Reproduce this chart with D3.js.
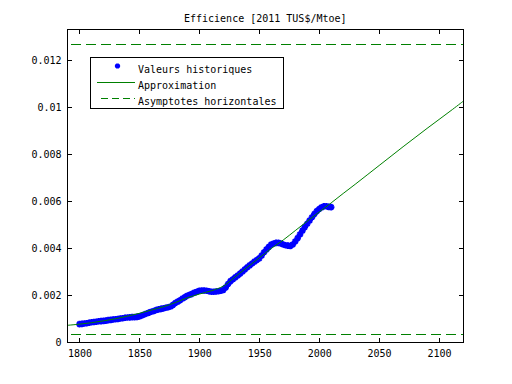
<!DOCTYPE html>
<html>
<head>
<meta charset="utf-8">
<script src="https://cdn.jsdelivr.net/npm/d3@7"></script>
<style>
  html, body { margin: 0; padding: 0; background: #fff; }
  svg text { font-family: "DejaVu Sans Mono", monospace; font-size: 10px; fill: #000; }
</style>
</head>
<body>
<svg id="chart" width="512" height="384"></svg>
<script>
// ---- Data ----
const histYears = d3.range(1800, 2011, 2);
const histValues = [
  0.00076,0.00077,0.00079,0.00080,0.00082,0.00084,0.00085,0.00086,0.00088,0.00089,
  0.00090,0.00091,0.00093,0.00094,0.00096,0.00097,0.00098,0.00100,0.00101,0.00103,
  0.00104,0.00105,0.00106,0.00106,0.00107,0.00109,0.00113,0.00117,0.00121,0.00125,
  0.00129,0.00132,0.00136,0.00139,0.00141,0.00143,0.00146,0.00148,0.00151,0.00158,
  0.00166,0.00172,0.00178,0.00185,0.00191,0.00197,0.00201,0.00205,0.00210,0.00214,
  0.00218,0.00219,0.00219,0.00218,0.00216,0.00214,0.00214,0.00215,0.00216,0.00218,
  0.00221,0.00232,0.00247,0.00259,0.00267,0.00275,0.00283,0.00291,0.00300,0.00309,
  0.00318,0.00326,0.00334,0.00342,0.00349,0.00356,0.00368,0.00382,0.00394,0.00405,
  0.00415,0.00419,0.00422,0.00422,0.00419,0.00415,0.00412,0.00410,0.00409,0.00415,
  0.00428,0.00442,0.00458,0.00474,0.00489,0.00503,0.00517,0.00531,0.00545,0.00557,
  0.00566,0.00573,0.00578,0.00578,0.00575,0.00574];

const fitYears = [1790,1800,1810,1820,1830,1840,1850,1860,1870,1880,1890,1900,1910,1920,1930,1940,1950,1960,1970,1980,1990,2000,2010,2020,2030,2040,2050,2060,2070,2080,2090,2100,2110,2120];
const fitValues = [0.00071,0.00076,0.00082,0.00090,0.00099,0.00110,0.00122,0.00136,0.00150,0.00168,0.00188,0.00204,0.00218,0.00238,0.00278,0.00318,0.00358,0.00398,0.00434,0.00474,0.00514,0.00553,0.00592,0.00632,0.00671,0.00711,0.00751,0.00791,0.00831,0.00870,0.00909,0.00947,0.00985,0.01024];

const asymptotes = [0.00036, 0.012684];

const xTicks = [1800,1850,1900,1950,2000,2050,2100];
const yTicks = [0,0.002,0.004,0.006,0.008,0.01,0.012];
const yTickLabels = ["0","0.002","0.004","0.006","0.008","0.01","0.012"];

const titleText = "Efficience [2011 TUS$/Mtoe]";
const legendLabels = ["Valeurs historiques","Approximation","Asymptotes horizontales"];

// ---- Layout ----
const svg = d3.select("#chart");
const L = 67.5, R = 463, T = 29.5, B = 342;
const x = d3.scaleLinear().domain([1790, 2120]).range([L, R]);
const y = d3.scaleLinear().domain([0, 0.0133]).range([B, T]);
const blue = "#0000ff", green = "#008000";
const snap = v => Math.round(v) + 0.5;

svg.append("clipPath").attr("id", "clip").append("rect")
  .attr("x", L).attr("y", T).attr("width", R - L).attr("height", B - T);
const plot = svg.append("g").attr("clip-path", "url(#clip)");

function star(s) {
  const d = s * 0.707;
  return `M${-s},0L${s},0M0,${-s}L0,${s}M${-d},${-d}L${d},${d}M${-d},${d}L${d},${-d}`;
}

// Historical markers
plot.append("g").selectAll("path").data(histYears.map((yr, i) => [yr, histValues[i]]))
  .join("path")
  .attr("transform", d => `translate(${x(d[0])},${y(d[1])})`)
  .attr("d", star(3.3))
  .attr("stroke", blue).attr("stroke-width", 2).attr("fill", "none");

// Approximation
const line = d3.line().x(d => x(d[0])).y(d => y(d[1])).curve(d3.curveCatmullRom);
plot.append("path").datum(fitYears.map((yr, i) => [yr, fitValues[i]]))
  .attr("d", line).attr("fill", "none").attr("stroke", green).attr("stroke-width", 1);

// Asymptotes
plot.selectAll("line.asym").data(asymptotes).join("line")
  .attr("class", "asym")
  .attr("x1", x(1790) + 3).attr("x2", x(2120))
  .attr("y1", d => snap(y(d))).attr("y2", d => snap(y(d)))
  .attr("stroke", green).attr("stroke-width", 1).attr("stroke-dasharray", "10,5")
  .attr("shape-rendering", "crispEdges");

// Axes (inward ticks on all sides)
const tk = 4;
const axB = svg.append("g").attr("transform", `translate(0,${B})`)
  .call(d3.axisBottom(x).tickValues(xTicks).tickSizeInner(-tk).tickSizeOuter(0).tickPadding(8).tickFormat(d3.format("d")));
const axT = svg.append("g").attr("transform", `translate(0,${T})`)
  .call(d3.axisTop(x).tickValues(xTicks).tickSizeInner(-tk).tickSizeOuter(0).tickFormat(""));
const axL = svg.append("g").attr("transform", `translate(${L},0)`)
  .call(d3.axisLeft(y).tickValues(yTicks).tickSizeInner(-tk).tickSizeOuter(0).tickPadding(6).tickFormat((d, i) => yTickLabels[i]));
const axR = svg.append("g").attr("transform", `translate(${R},0)`)
  .call(d3.axisRight(y).tickValues(yTicks).tickSizeInner(-tk).tickSizeOuter(0).tickFormat(""));
[axB, axT, axL, axR].forEach(a => {
  a.select(".domain").remove();
  a.selectAll(".tick line").attr("stroke", "#000").attr("shape-rendering", "crispEdges");
  a.selectAll("text").style("font-family", '"DejaVu Sans Mono", monospace').style("font-size", "10px").attr("fill", "#000");
});
svg.append("rect").attr("x", L).attr("y", T).attr("width", R - L).attr("height", B - T)
  .attr("fill", "none").attr("stroke", "#000").attr("stroke-width", 1).attr("shape-rendering", "crispEdges");

// Title
svg.append("text").attr("x", (L + R) / 2).attr("y", 22).attr("text-anchor", "middle").text(titleText);

// Legend
const lg = svg.append("g");
lg.append("rect").attr("x", 90.5).attr("y", 57.5).attr("width", 193).attr("height", 51)
  .attr("fill", "#fff").attr("stroke", "#000").attr("stroke-width", 1).attr("shape-rendering", "crispEdges");
const rowY = [69, 85, 101];
legendLabels.forEach((t, i) => {
  lg.append("text").attr("x", 138).attr("y", rowY[i] + 3.5).text(t);
});
lg.append("path").attr("transform", `translate(117.5,${rowY[0] - 3})`).attr("d", star(2.6))
  .attr("stroke", blue).attr("stroke-width", 1.8).attr("fill", "none");
lg.append("line").attr("x1", 97).attr("x2", 135).attr("y1", rowY[1] - 2.5).attr("y2", rowY[1] - 2.5)
  .attr("stroke", green).attr("stroke-width", 1).attr("shape-rendering", "crispEdges");
lg.append("line").attr("x1", 101).attr("x2", 135).attr("y1", rowY[2] - 2.5).attr("y2", rowY[2] - 2.5)
  .attr("stroke", green).attr("stroke-width", 1).attr("stroke-dasharray", "7,4").attr("shape-rendering", "crispEdges");
</script>
</body>
</html>
